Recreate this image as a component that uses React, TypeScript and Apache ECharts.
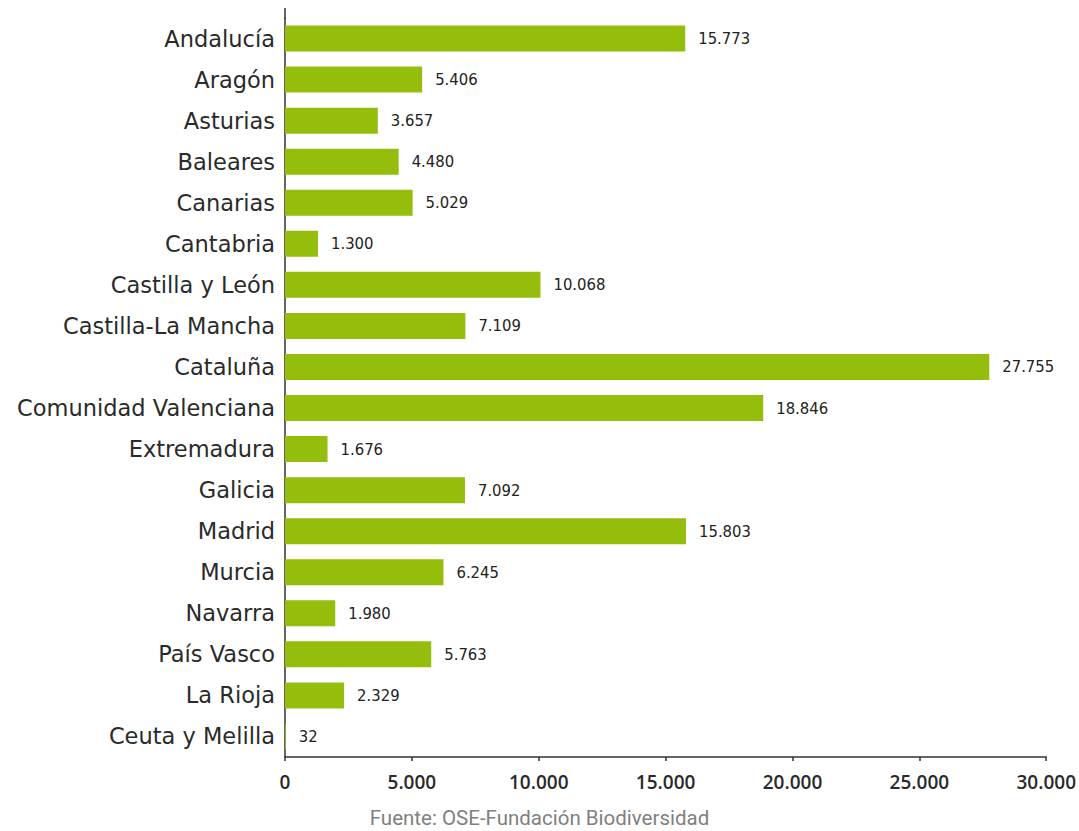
import React, { useEffect, useRef } from "react";
import * as echarts from "echarts";

const regions = [
  "Andalucía",
  "Aragón",
  "Asturias",
  "Baleares",
  "Canarias",
  "Cantabria",
  "Castilla y León",
  "Castilla-La Mancha",
  "Cataluña",
  "Comunidad Valenciana",
  "Extremadura",
  "Galicia",
  "Madrid",
  "Murcia",
  "Navarra",
  "País Vasco",
  "La Rioja",
  "Ceuta y Melilla",
];

const values = [
  15773, 5406, 3657, 4480, 5029, 1300, 10068, 7109, 27755, 18846, 1676, 7092,
  15803, 6245, 1980, 5763, 2329, 32,
];

const sourceText = "Fuente: OSE-Fundación Biodiversidad";

const fmt = (v: number) =>
  String(Math.round(v)).replace(/\B(?=(\d{3})+(?!\d))/g, ".");

export default function App() {
  const ref = useRef<HTMLDivElement>(null);
  useEffect(() => {
    if (!ref.current) return;
    const chart = echarts.init(ref.current, undefined, { renderer: "svg" });
    chart.setOption({
      animation: false,
      backgroundColor: "#ffffff",
      grid: { left: 285, right: 32, top: 18, bottom: 74, containLabel: false },
      xAxis: {
        type: "value",
        min: 0,
        max: 30000,
        interval: 5000,
        splitLine: { show: false },
        axisLine: { show: true, lineStyle: { color: "#333", width: 1.5 } },
        axisTick: { show: true, length: 4, lineStyle: { color: "#333", width: 1.5 } },
        axisLabel: {
          color: "#2a2a2a",
          fontSize: 19,
          fontFamily: "Open Sans",
          fontWeight: 600,
          margin: 15,
          formatter: (v: number) => fmt(v),
        },
      },
      yAxis: {
        type: "category",
        data: regions,
        inverse: true,
        axisLine: { show: true, lineStyle: { color: "#333", width: 1.5 } },
        axisTick: { show: false },
        axisLabel: {
          color: "#2a2a2a",
          fontSize: 22.5,
          fontFamily: "DejaVu Sans",
          margin: 10,
        },
      },
      series: [
        {
          type: "bar",
          data: values,
          barWidth: 26,
          itemStyle: { color: "#94bd0c" },
          label: {
            show: true,
            position: "right",
            distance: 13,
            color: "#222",
            fontSize: 16.5,
            fontFamily: "DejaVu Sans Condensed",
            formatter: (p: any) => fmt(p.value),
          },
        },
      ],
      graphic: [
        {
          type: "line",
          shape: { x1: 285, y1: 8, x2: 285, y2: 19 },
          style: { stroke: "#333", lineWidth: 1.5 },
        },
        {
          type: "text",
          left: "center",
          top: 807,
          style: {
            text: sourceText,
            fill: "#808080",
            fontSize: 20.5,
            fontFamily: "Roboto",
          },
        },
      ],
    });
    return () => chart.dispose();
  }, []);
  return (
    <div
      ref={ref}
      style={{ position: "fixed", left: 0, top: 0, width: 1079, height: 831 }}
    />
  );
}
